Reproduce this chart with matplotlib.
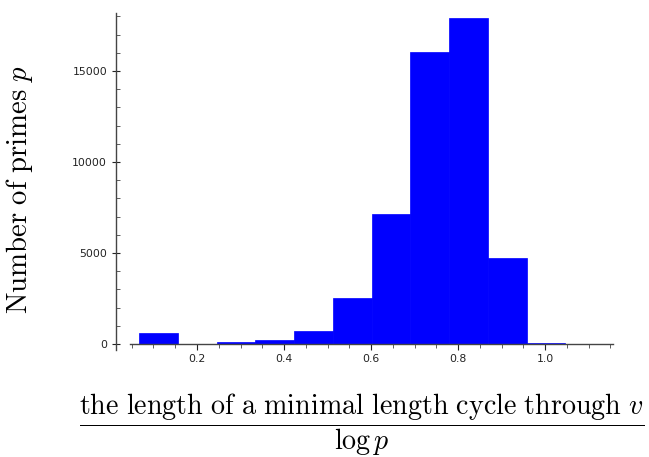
import numpy as np
import matplotlib
matplotlib.use("Agg")
import matplotlib.pyplot as plt
from matplotlib.ticker import MultipleLocator

# histogram data
bin_edges = [0.0674, 0.1564, 0.2454, 0.3344, 0.4234, 0.5124, 0.6014,
             0.6904, 0.7794, 0.8684, 0.9574, 1.0464]
counts = [600, 0, 90, 220, 700, 2510, 7160, 16040, 17900, 4730, 40]

x_ticks = [0.2, 0.4, 0.6, 0.8, 1.0]
y_ticks = [0, 5000, 10000, 15000]

plt.rcParams["mathtext.fontset"] = "cm"

fig = plt.figure(figsize=(6.49, 4.57), dpi=100)
ax = fig.add_axes([130 / 649, 107 / 457, 483 / 649, 337.3 / 457])

edges = np.array(bin_edges)
ax.bar(edges[:-1], counts, width=np.diff(edges), align="edge",
       color="#0000ff", edgecolor="#0000ff", linewidth=0.5)

ax.set_xlim(0.046, 1.156)
ax.set_ylim(-330, 18200)

# sage style axes
ax.spines["top"].set_visible(False)
ax.spines["right"].set_visible(False)
ax.spines["left"].set_position(("outward", 10))
ax.spines["bottom"].set_position(("data", 0))
for s in ("left", "bottom"):
    ax.spines[s].set_color("#444444")
    ax.spines[s].set_linewidth(1.0)

ax.set_xticks(x_ticks)
ax.set_xticklabels(["0.2", "0.4", "0.6", "0.8", "1.0"])
ax.set_yticks(y_ticks)
ax.set_yticklabels(["0", "5000", "10000", "15000"])
ax.xaxis.set_minor_locator(MultipleLocator(0.05))
ax.yaxis.set_minor_locator(MultipleLocator(1000))

ax.tick_params(axis="both", which="major", labelsize=7.8, colors="#222222",
               length=4, width=0.8)
ax.tick_params(axis="y", which="major", direction="inout", length=6)
ax.tick_params(axis="y", which="minor", direction="in", length=3, width=0.6,
               colors="#444444")
ax.tick_params(axis="x", which="minor", direction="out", length=3, width=0.6,
               colors="#444444")

fig.text(20 / 649, 1 - 189 / 457, r"$\mathrm{Number\ of\ primes}\ p$",
         rotation=90, ha="center", va="center", fontsize=20.7)
fig.text(362 / 649, 1 - 425 / 457,
         r"$\dfrac{\mathrm{the\ length\ of\ a\ minimal\ length\ cycle\ through}\ v}{\log p}$",
         ha="center", va="center", fontsize=20.2)

plt.savefig("out.png", dpi=100)
